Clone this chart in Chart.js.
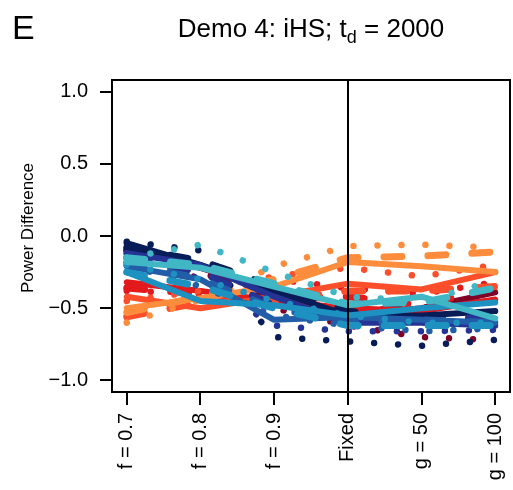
<!DOCTYPE html>
<html>
<head>
<meta charset="utf-8">
<script src="https://cdn.jsdelivr.net/npm/chart.js@4.4.1/dist/chart.umd.min.js"></script>
<style>
  html, body { margin: 0; padding: 0; background: #fff; }
  #wrap { width: 513px; height: 490px; }
</style>
</head>
<body>
<div id="wrap"><canvas id="c" width="513" height="490"></canvas></div>
<script>
// ---------- DATA ----------
const categories = ['f = 0.7', 'f = 0.8', 'f = 0.9', 'Fixed', 'g = 50', 'g = 100'];
const yTickValues = [-1.0, -0.5, 0.0, 0.5, 1.0];

// warm group
const burgundySolid  = [-0.08, -0.22, -0.38, -0.55, -0.50, -0.39];
const burgundyDashed = [-0.10, -0.25, -0.42, -0.52, -0.50, -0.45];
const burgundyDotted = [-0.10, -0.30, -0.50, -0.62, -0.70, -0.72];
const redSolid       = [-0.32, -0.38, -0.45, -0.50, -0.52, -0.44];
const redDashed      = [-0.36, -0.40, -0.44, -0.42, -0.48, -0.35];
const redDotted      = [-0.38, -0.40, -0.30, -0.36, -0.40, -0.32];
const redOrangeSolid  = [-0.42, -0.50, -0.42, -0.33, -0.37, -0.25];
const redOrangeDashed = [-0.56, -0.46, -0.45, -0.38, -0.38, -0.35];
const redOrangeDotted = [-0.45, -0.38, -0.28, -0.22, -0.28, -0.20];
const orangeSolid    = [-0.50, -0.43, -0.35, -0.18, -0.21, -0.25];
const orangeDashed   = [-0.53, -0.42, -0.30, -0.15, -0.14, -0.11];
const orangeDotted   = [-0.60, -0.44, -0.21, -0.07, -0.06, -0.08];
// cool group
const navySolid      = [-0.05, -0.20, -0.38, -0.55, -0.55, -0.52];
const navyDashed     = [-0.08, -0.17, -0.35, -0.52, -0.58, -0.56];
const navyDotted     = [-0.04, -0.10, -0.70, -0.73, -0.76, -0.72];
const darkBlueSolid  = [-0.12, -0.20, -0.42, -0.60, -0.60, -0.62];
const darkBlueDashed = [-0.15, -0.25, -0.48, -0.55, -0.60, -0.55];
const darkBlueDotted = [-0.12, -0.30, -0.62, -0.66, -0.66, -0.65];
const blueSolid      = [-0.21, -0.30, -0.58, -0.56, -0.58, -0.60];
const blueDashed     = [-0.18, -0.30, -0.50, -0.60, -0.58, -0.60];
const blueDotted     = [-0.20, -0.35, -0.55, -0.62, -0.66, -0.64];
const lightBlueSolid  = [-0.25, -0.45, -0.48, -0.55, -0.50, -0.46];
const lightBlueDashed = [-0.25, -0.35, -0.50, -0.62, -0.62, -0.62];
const lightBlueDotted = [-0.20, -0.30, -0.45, -0.55, -0.60, -0.60];
const cyanSolid      = [-0.18, -0.22, -0.35, -0.48, -0.42, -0.57];
const cyanDashed     = [-0.15, -0.20, -0.33, -0.47, -0.46, -0.36];
const cyanDotted     = [-0.15, -0.06, -0.25, -0.42, -0.45, -0.31];

// ---------- STYLE ----------
const COL = {
  burgundy: '#800026', red: '#e31a1c', redOrange: '#fc4e2a', orange: '#fd8d3c',
  navy: '#081d58', darkBlue: '#253494', blue: '#225ea8', lightBlue: '#1d91c0', cyan: '#41b6c4'
};
const STYLE = {
  solid:  { borderWidth: 6, borderDash: [] },
  dashed: { borderWidth: 7, borderDash: [18, 26] },
  dotted: { borderWidth: 6.5, borderDash: [0.01, 24] }
};

// bottom-to-top drawing order
const seriesList = [
  ['burgundy','solid',burgundySolid],['burgundy','dashed',burgundyDashed],['burgundy','dotted',burgundyDotted],
  ['red','solid',redSolid],['red','dashed',redDashed],['red','dotted',redDotted],
  ['redOrange','solid',redOrangeSolid],['redOrange','dashed',redOrangeDashed],['redOrange','dotted',redOrangeDotted],
  ['orange','solid',orangeSolid],['orange','dashed',orangeDashed],['orange','dotted',orangeDotted],
  ['navy','solid',navySolid],['navy','dashed',navyDashed],['navy','dotted',navyDotted],
  ['darkBlue','solid',darkBlueSolid],['darkBlue','dashed',darkBlueDashed],['darkBlue','dotted',darkBlueDotted],
  ['blue','solid',blueSolid],['blue','dashed',blueDashed],['blue','dotted',blueDotted],
  ['lightBlue','solid',lightBlueSolid],['lightBlue','dashed',lightBlueDashed],['lightBlue','dotted',lightBlueDotted],
  ['cyan','solid',cyanSolid],['cyan','dashed',cyanDashed],['cyan','dotted',cyanDotted]
];

const datasets = seriesList.map(([c, s, vals], i) => ({
  label: c + ' ' + s,
  data: vals.map((v, k) => ({ x: k, y: v })),
  borderColor: COL[c],
  backgroundColor: COL[c],
  borderWidth: STYLE[s].borderWidth,
  borderDash: STYLE[s].borderDash,
  borderCapStyle: 'round',
  borderJoinStyle: 'round',
  pointRadius: 0,
  tension: 0,
  fill: false,
  order: seriesList.length - i
}));

const FONT = '"Liberation Sans", Arial, Helvetica, sans-serif';

const decor = {
  id: 'decor',
  afterDatasetsDraw(chart) {
    const { ctx, chartArea: a, scales } = chart;
    ctx.save();
    ctx.strokeStyle = '#000';
    ctx.lineWidth = 2;
    ctx.strokeRect(a.left, a.top, a.right - a.left, a.bottom - a.top);
    const xf = Math.round(scales.x.getPixelForValue(3));
    ctx.beginPath();
    ctx.moveTo(xf, a.top);
    ctx.lineTo(xf, a.bottom);
    ctx.stroke();
    ctx.restore();
  },
  afterDraw(chart) {
    const { ctx, chartArea: a } = chart;
    ctx.save();
    ctx.fillStyle = '#000';
    // panel letter
    ctx.font = '34px ' + FONT;
    ctx.textAlign = 'left';
    ctx.textBaseline = 'alphabetic';
    ctx.fillText('E', 12, 39);
    // title with subscript
    const big = '26px ' + FONT, small = '18px ' + FONT;
    const p1 = 'Demo 4: iHS; t', p2 = 'd', p3 = ' = 2000';
    ctx.font = big; const w1 = ctx.measureText(p1).width; const w3 = ctx.measureText(p3).width;
    ctx.font = small; const w2 = ctx.measureText(p2).width;
    const total = w1 + w2 + w3;
    let x = (a.left + a.right) / 2 - total / 2;
    const base = 37;
    ctx.font = big; ctx.fillText(p1, x, base); x += w1;
    ctx.font = small; ctx.fillText(p2, x, base + 6); x += w2;
    ctx.font = big; ctx.fillText(p3, x, base);
    // y axis title
    ctx.translate(28, 228);
    ctx.rotate(-Math.PI / 2);
    ctx.font = '17px ' + FONT;
    ctx.textAlign = 'center';
    ctx.textBaseline = 'middle';
    ctx.fillText('Power Difference', 0, 0);
    ctx.restore();
  }
};

new Chart(document.getElementById('c'), {
  type: 'line',
  data: { datasets },
  options: {
    responsive: false,
    animation: false,
    layout: { padding: { top: 80, right: 3, left: 0, bottom: 0 } },
    plugins: { legend: { display: false }, tooltip: { enabled: false }, title: { display: false } },
    scales: {
      x: {
        type: 'linear',
        min: -0.2, max: 5.2,
        afterBuildTicks: s => { s.ticks = categories.map((_, i) => ({ value: i })); },
        afterFit: s => { s.height = 98; s.paddingLeft = 0; s.paddingRight = 0; },
        ticks: {
          autoSkip: false, minRotation: 90, maxRotation: 90, padding: 8,
          color: '#000', font: { family: FONT, size: 20 },
          callback: v => categories[v]
        },
        grid: { drawOnChartArea: false, drawTicks: true, tickLength: 13, color: '#000', lineWidth: 2 },
        border: { display: true, color: '#000', width: 2 }
      },
      y: {
        min: -1.08, max: 1.08,
        afterBuildTicks: s => { s.ticks = yTickValues.map(v => ({ value: v })); },
        afterFit: s => { s.width = 112; s.paddingTop = 0; s.paddingBottom = 0; },
        ticks: {
          padding: 12, color: '#000', font: { family: FONT, size: 20 },
          callback: v => (v < 0 ? '\u2212' : '') + Math.abs(v).toFixed(1)
        },
        grid: { drawOnChartArea: false, drawTicks: true, tickLength: 12, color: '#000', lineWidth: 2 },
        border: { display: true, color: '#000', width: 2 }
      }
    }
  },
  plugins: [decor]
});
</script>
</body>
</html>
